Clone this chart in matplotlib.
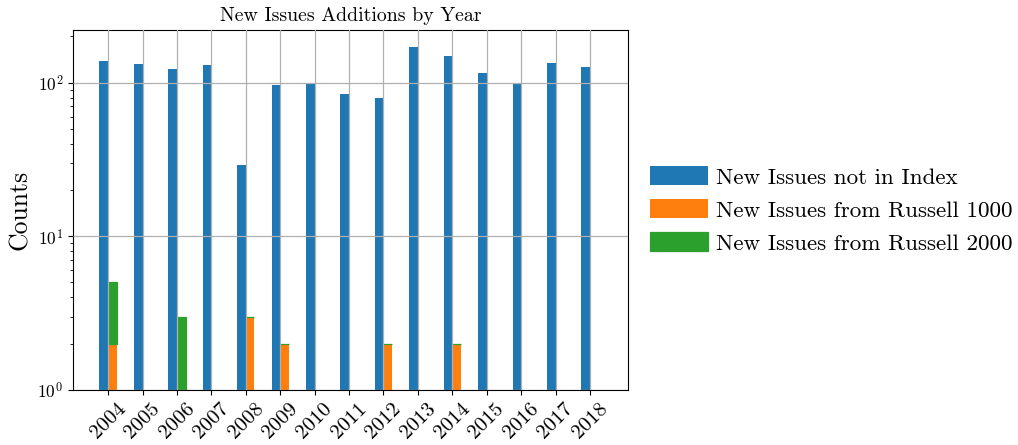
import numpy as np
import matplotlib
matplotlib.use("Agg")
import matplotlib.pyplot as plt

plt.rcParams["font.family"] = "serif"
plt.rcParams["font.serif"] = ["cmr10"]
plt.rcParams["mathtext.fontset"] = "cm"
plt.rcParams["axes.formatter.use_mathtext"] = True

years = [2004, 2005, 2006, 2007, 2008, 2009, 2010, 2011, 2012, 2013, 2014, 2015, 2016, 2017, 2018]
not_in_index = [139, 133, 123, 131, 29, 97, 99, 85, 79, 172, 150, 115, 100, 135, 127]
from_r1000 = [2, 0, 0, 0, 3, 2, 0, 0, 2, 0, 2, 0, 0, 0, 0]
from_r2000 = [3, 0, 3, 0, 0, 0, 0, 0, 0, 0, 0, 0, 0, 0, 0]

x = np.arange(len(years))
w = 0.25
r1000 = np.array(from_r1000, dtype=float)
r2000 = np.array(from_r2000, dtype=float)

fig = plt.figure(figsize=(10.18, 4.45), dpi=100)
ax = fig.add_axes([0.0717, 0.124, 0.545, 0.809])
ax.set_axisbelow(False)

ax.bar(x - w / 2, not_in_index, w, color="#1f77b4", label="New Issues not in Index", zorder=1)
ax.bar(x + w / 2, r1000, w, color="#ff7f0e", label="New Issues from Russell 1000", zorder=1)
# stacked on the Russell 1000 bars; zero-height segments leave a thin edge
lw = np.where((r1000 > 0) | (r2000 > 0), 0.9, 0)
ax.bar(x + w / 2, r2000, w, bottom=r1000, color="#2ca02c", edgecolor="#2ca02c",
       linewidth=lw, label="New Issues from Russell 2000", zorder=1)

ax.set_yscale("log")
ax.set_ylim(1, 221)
ax.set_xlim(-1.02, 15.1)
ax.set_xticks(x)
ax.set_xticklabels([str(y) for y in years], rotation=45, fontsize=15)
ax.tick_params(axis="y", labelsize=12.5)
ax.grid(True, which="major", color="#b0b0b0", linewidth=0.9, zorder=2)
ax.set_ylabel("Counts", fontsize=18.5)
ax.set_title("New Issues Additions by Year", fontsize=14.3)

ax.legend(loc="center left", bbox_to_anchor=(1.003, 0.5), frameon=False, fontsize=16.6,
          handlelength=2.5, handleheight=0.9, handletextpad=0.35)

fig.savefig("out.png", dpi=100)
